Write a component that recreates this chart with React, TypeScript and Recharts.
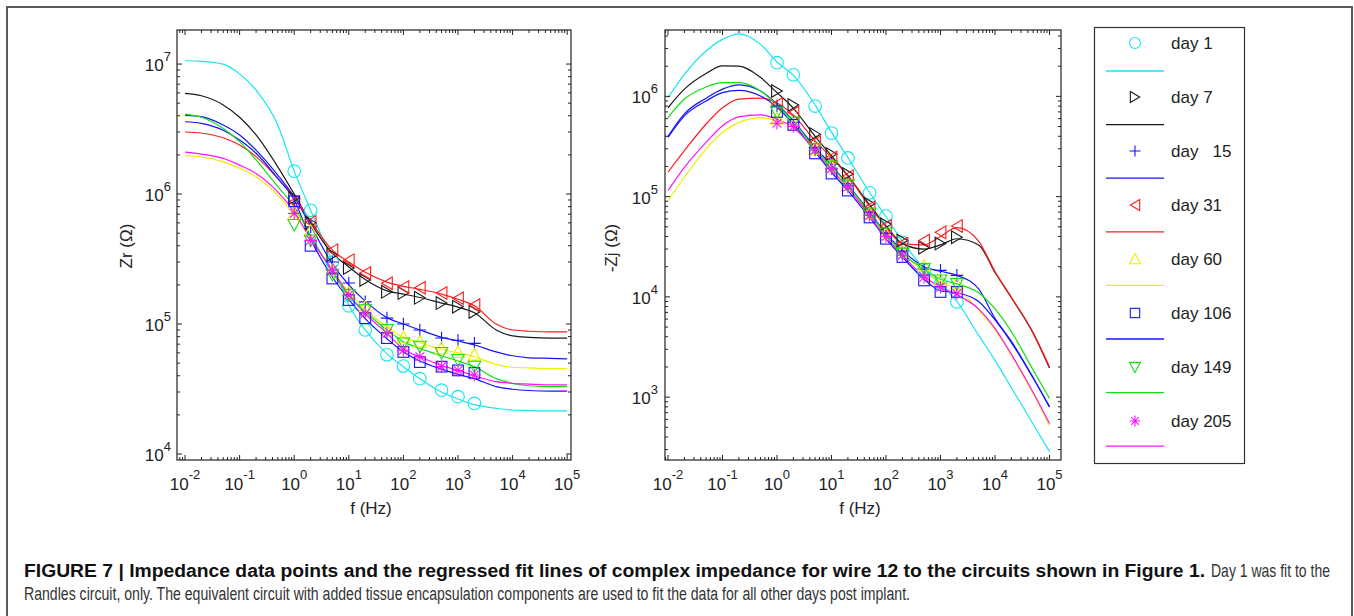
import { ComposedChart, Line, Scatter, XAxis, YAxis } from 'recharts';

// frequencies (Hz): fitted curves and measured points
const fitFreq = [0.01, 0.02, 0.05, 0.1, 0.2, 0.5, 1, 2, 5, 10, 20, 50, 100, 200, 500, 1000, 2000, 5000, 10000, 20000, 50000, 100000];
const measFreq = [1, 2, 5, 10, 20, 50, 100, 200, 500, 1000, 2000];

// Zr fits
const zrFit1 = [1.06e7, 1.05e7, 1.0e7, 8.4e6, 6.3e6, 3.4e6, 1.5e6, 7.5e5, 3.0e5, 1.4e5, 9.0e4, 5.9e4, 4.7e4, 3.8e4, 3.0e4, 2.65e4, 2.4e4, 2.25e4, 2.18e4, 2.16e4, 2.15e4, 2.15e4];
const zrFit7 = [5.95e6, 5.7e6, 4.85e6, 3.9e6, 2.85e6, 1.62e6, 1.0e6, 6.0e5, 3.5e5, 2.75e5, 2.2e5, 1.8e5, 1.7e5, 1.6e5, 1.45e5, 1.35e5, 1.22e5, 9.0e4, 8.1e4, 7.9e4, 7.8e4, 7.8e4];
const zrFit15 = [4.03e6, 3.94e6, 3.4e6, 2.85e6, 2.18e6, 1.4e6, 9.5e5, 5.7e5, 2.9e5, 2.0e5, 1.5e5, 1.12e5, 1.0e5, 9.0e4, 7.9e4, 7.4e4, 6.9e4, 6.1e4, 5.7e4, 5.5e4, 5.45e4, 5.4e4];
const zrFit31 = [3.0e6, 2.95e6, 2.71e6, 2.38e6, 1.94e6, 1.32e6, 9.5e5, 6.2e5, 3.7e5, 3.0e5, 2.5e5, 2.1e5, 1.95e5, 1.85e5, 1.7e5, 1.55e5, 1.38e5, 1.0e5, 9.0e4, 8.8e4, 8.7e4, 8.7e4];
const zrFit60 = [1.97e6, 1.93e6, 1.77e6, 1.58e6, 1.36e6, 9.8e5, 6.9e5, 4.6e5, 2.6e5, 1.75e5, 1.3e5, 9.5e4, 7.9e4, 7.2e4, 6.4e4, 6.0e4, 5.6e4, 4.9e4, 4.65e4, 4.6e4, 4.55e4, 4.55e4];
const zrFit106 = [3.6e6, 3.5e6, 3.1e6, 2.6e6, 2.06e6, 1.32e6, 9.0e5, 4.5e5, 2.3e5, 1.55e5, 1.1e5, 7.7e4, 6.1e4, 5.2e4, 4.5e4, 4.1e4, 3.8e4, 3.3e4, 3.15e4, 3.08e4, 3.05e4, 3.05e4];
const zrFit149 = [4.12e6, 3.9e6, 3.2e6, 2.53e6, 1.83e6, 1.14e6, 8.0e5, 4.8e5, 2.5e5, 1.65e5, 1.25e5, 9.0e4, 7.3e4, 6.5e4, 5.7e4, 5.2e4, 4.7e4, 3.8e4, 3.5e4, 3.35e4, 3.3e4, 3.3e4];
const zrFit205 = [2.1e6, 2.03e6, 1.88e6, 1.67e6, 1.44e6, 1.04e6, 7.3e5, 4.5e5, 2.6e5, 1.68e5, 1.2e5, 8.5e4, 6.4e4, 5.6e4, 4.8e4, 4.4e4, 4.0e4, 3.6e4, 3.5e4, 3.45e4, 3.4e4, 3.4e4];

// Zr measured
const zrPts1 = [1.5e6, 7.5e5, 3.0e5, 1.38e5, 9.0e4, 5.8e4, 4.75e4, 3.8e4, 3.1e4, 2.76e4, 2.45e4];
const zrPts7 = [9.3e5, 6.0e5, 3.4e5, 2.7e5, 2.18e5, 1.77e5, 1.73e5, 1.59e5, 1.45e5, 1.36e5, 1.24e5];
const zrPts15 = [8.5e5, 5.6e5, 3.0e5, 2.07e5, 1.48e5, 1.11e5, 1.0e5, 9.0e4, 7.8e4, 7.5e4, 7.1e4];
const zrPts31 = [8.7e5, 6.1e5, 3.7e5, 3.1e5, 2.47e5, 2.06e5, 1.93e5, 1.9e5, 1.73e5, 1.58e5, 1.4e5];
const zrPts60 = [7.0e5, 5.2e5, 2.6e5, 1.75e5, 1.36e5, 9.0e4, 7.9e4, 7.3e4, 6.5e4, 6.1e4, 5.8e4];
const zrPts106 = [8.8e5, 4.0e5, 2.24e5, 1.53e5, 1.11e5, 7.8e4, 6.1e4, 5.1e4, 4.7e4, 4.4e4, 4.2e4];
const zrPts149 = [5.8e5, 4.4e5, 2.4e5, 1.67e5, 1.28e5, 9.0e4, 7.1e4, 6.7e4, 6.0e4, 5.3e4, 4.7e4];
const zrPts205 = [7.1e5, 4.4e5, 2.6e5, 1.67e5, 1.21e5, 8.5e4, 6.3e4, 5.6e4, 4.7e4, 4.4e4, 4.05e4];

// -Zj fits
const zjFit1 = [9.7e5, 1.66e6, 2.84e6, 3.7e6, 4.2e6, 3.3e6, 2.2e6, 1.62e6, 8.2e5, 4.4e5, 2.45e5, 1.1e5, 6.3e4, 3.6e4, 1.9e4, 1.35e4, 9.0e3, 4.15e3, 2.33e3, 1.24e3, 540, 286];
const zjFit7 = [7.7e5, 1.18e6, 1.69e6, 2.01e6, 2.0e6, 1.54e6, 1.09e6, 7.6e5, 4.0e5, 2.55e5, 1.62e5, 8.3e4, 5.1e4, 3.4e4, 3.0e4, 3.3e4, 3.8e4, 3.3e4, 1.75e4, 9.8e3, 4.35e3, 1.95e3];
const zjFit15 = [4.0e5, 6.7e5, 9.6e5, 1.18e6, 1.3e6, 1.13e6, 8.4e5, 5.7e5, 3.1e5, 2.05e5, 1.32e5, 7.0e4, 4.3e4, 2.9e4, 2.0e4, 1.8e4, 1.64e4, 1.2e4, 6.1e3, 3.6e3, 1.57e3, 800];
const zjFit31 = [1.75e5, 2.87e5, 5.3e5, 7.7e5, 9.4e5, 9.6e5, 8.6e5, 6.5e5, 3.6e5, 2.45e5, 1.6e5, 8.0e4, 5.0e4, 3.4e4, 3.3e4, 4.0e4, 4.9e4, 3.6e4, 1.79e4, 9.9e3, 4.4e3, 2.0e3];
const zjFit60 = [9.1e4, 1.56e5, 3.0e5, 4.37e5, 5.5e5, 6.1e5, 5.7e5, 4.9e5, 2.95e5, 1.9e5, 1.25e5, 6.6e4, 4.1e4, 2.7e4, 1.8e4, 1.4e4, 1.2e4, 7.4e3, 4.7e3, 2.6e3, 1.08e3, 520];
const zjFit106 = [3.9e5, 6.4e5, 9.0e5, 1.09e6, 1.15e6, 1.01e6, 7.8e5, 5.3e5, 2.8e5, 1.75e5, 1.15e5, 6.2e4, 3.8e4, 2.5e4, 1.5e4, 1.15e4, 1.1e4, 9.0e3, 5.9e3, 3.5e3, 1.55e3, 800];
const zjFit149 = [6.15e5, 9.4e5, 1.24e6, 1.37e6, 1.37e6, 1.13e6, 8.2e5, 5.6e5, 3.0e5, 2.0e5, 1.3e5, 6.8e4, 4.2e4, 2.7e4, 1.9e4, 1.5e4, 1.35e4, 1.1e4, 7.6e3, 4.5e3, 1.87e3, 970];
const zjFit205 = [1.15e5, 1.96e5, 3.47e5, 5.1e5, 6.25e5, 6.55e5, 5.9e5, 4.9e5, 2.9e5, 1.85e5, 1.22e5, 6.4e4, 3.9e4, 2.6e4, 1.6e4, 1.25e4, 1.05e4, 7.6e3, 4.85e3, 2.67e3, 1.12e3, 547];

// -Zj measured
const zjPts1 = [2.17e6, 1.64e6, 8.0e5, 4.3e5, 2.43e5, 1.09e5, 6.4e4, 3.5e4, 1.84e4, 1.35e4, 8.9e3];
const zjPts7 = [1.13e6, 8.2e5, 4.2e5, 2.66e5, 1.68e5, 8.5e4, 5.3e4, 3.65e4, 3.09e4, 3.4e4, 3.93e4];
const zjPts15 = [8.0e5, 5.5e5, 3.1e5, 2.1e5, 1.35e5, 7.0e4, 4.4e4, 2.9e4, 1.9e4, 1.84e4, 1.64e4];
const zjPts31 = [8.4e5, 6.9e5, 3.5e5, 2.46e5, 1.6e5, 7.8e4, 5.1e4, 3.4e4, 3.65e4, 4.4e4, 5.1e4];
const zjPts60 = [6.0e5, 5.2e5, 3.0e5, 2.0e5, 1.3e5, 6.8e4, 4.2e4, 2.8e4, 2.05e4, 1.46e4, 1.35e4];
const zjPts106 = [7.0e5, 5.2e5, 2.7e5, 1.7e5, 1.15e5, 6.2e4, 3.8e4, 2.5e4, 1.46e4, 1.12e4, 1.12e4];
const zjPts149 = [6.9e5, 5.5e5, 3.0e5, 2.0e5, 1.3e5, 6.8e4, 4.3e4, 2.7e4, 1.9e4, 1.46e4, 1.35e4];
const zjPts205 = [5.4e5, 5.0e5, 2.9e5, 1.9e5, 1.25e5, 6.5e4, 4.0e4, 2.6e4, 1.57e4, 1.25e4, 1.08e4];

const dayLabels = ['day 1', 'day 7', 'day   15', 'day 31', 'day 60', 'day 106', 'day 149', 'day 205'];
const dayColors = ['#14e6f0', '#1a1a1a', '#1414ff', '#ff1c1c', '#eeee00', '#1414ff', '#14e014', '#ff14ff'];
const daySymbols = ['circle', 'right', 'plus', 'left', 'up', 'square', 'down', 'star'];

const zrFits = [zrFit1, zrFit7, zrFit15, zrFit31, zrFit60, zrFit106, zrFit149, zrFit205];
const zrPts = [zrPts1, zrPts7, zrPts15, zrPts31, zrPts60, zrPts106, zrPts149, zrPts205];
const zjFits = [zjFit1, zjFit7, zjFit15, zjFit31, zjFit60, zjFit106, zjFit149, zjFit205];
const zjPts = [zjPts1, zjPts7, zjPts15, zjPts31, zjPts60, zjPts106, zjPts149, zjPts205];

const decadeTicks = (lo: number, hi: number) => {
  const out: number[] = [];
  for (let e = lo; e <= hi; e++) for (let m = 1; m <= 9; m++) out.push(m * Math.pow(10, e));
  return out;
};

const FONT = '"Liberation Sans", Arial, Helvetica, sans-serif';
const INK = '#222';

const toRows = (freq: number[], vals: number[]) => freq.map((f, i) => ({ f, v: vals[i] }));
const isDecade = (v: number) => {
  const l = Math.log10(v);
  return Math.abs(l - Math.round(l)) < 1e-6;
};

function Marker({ kind, cx, cy, color, s = 6 }: any) {
  const p = { fill: 'none', stroke: color, strokeWidth: 1.1 };
  const t = s * 0.85;
  switch (kind) {
    case 'circle':
      return <circle cx={cx} cy={cy} r={s} {...p} />;
    case 'right':
      return <polygon points={`${cx - t},${cy - s} ${cx + t},${cy} ${cx - t},${cy + s}`} {...p} />;
    case 'left':
      return <polygon points={`${cx + t},${cy - s} ${cx - t},${cy} ${cx + t},${cy + s}`} {...p} />;
    case 'up':
      return <polygon points={`${cx},${cy - s} ${cx + s},${cy + t} ${cx - s},${cy + t}`} {...p} />;
    case 'down':
      return <polygon points={`${cx},${cy + s} ${cx + s},${cy - t} ${cx - s},${cy - t}`} {...p} />;
    case 'square':
      return <rect x={cx - t} y={cy - t} width={2 * t} height={2 * t} {...p} />;
    case 'plus':
      return <path d={`M${cx - s},${cy}H${cx + s}M${cx},${cy - s}V${cy + s}`} {...p} />;
    default: {
      const d = s * 0.7;
      return (
        <path
          d={`M${cx - s},${cy}H${cx + s}M${cx},${cy - s}V${cy + s}M${cx - d},${cy - d}L${cx + d},${cy + d}M${cx + d},${cy - d}L${cx - d},${cy + d}`}
          {...p}
        />
      );
    }
  }
}

type Box = { left: number; right: number; top: number; bottom: number };

const makeXTick = (box: Box) => (props: any) => {
  const { x, payload } = props;
  const v = payload.value;
  const major = isDecade(v);
  const len = major ? 5 : 3;
  return (
    <g>
      <line x1={x} x2={x} y1={box.bottom} y2={box.bottom - len} stroke={INK} />
      <line x1={x} x2={x} y1={box.top} y2={box.top + len} stroke={INK} />
      {major && (
        <text x={x} y={box.bottom + 30} textAnchor="middle" fontSize={17} fill={INK} fontFamily={FONT}>
          10<tspan dy={-11} fontSize={13}>{Math.round(Math.log10(v))}</tspan>
        </text>
      )}
    </g>
  );
};

const makeYTick = (box: Box, gap: number) => (props: any) => {
  const { y, payload } = props;
  const v = payload.value;
  const major = isDecade(v);
  const len = major ? 5 : 3;
  return (
    <g>
      <line x1={box.left} x2={box.left + len} y1={y} y2={y} stroke={INK} />
      <line x1={box.right} x2={box.right - len} y1={y} y2={y} stroke={INK} />
      {major && (
        <text x={box.left - gap} y={y + 7} textAnchor="end" fontSize={17} fill={INK} fontFamily={FONT}>
          10<tspan dy={-10} fontSize={13}>{Math.round(Math.log10(v))}</tspan>
        </text>
      )}
    </g>
  );
};

function ImpedancePlot({ fits, pts, xDomain, yDomain, xTicks, yTicks, box, gap, width, margin }: any) {
  return (
    <ComposedChart width={width} height={540} margin={margin}>
      <XAxis
        dataKey="f"
        type="number"
        scale="log"
        domain={xDomain}
        allowDataOverflow
        ticks={xTicks}
        interval={0}
        tick={makeXTick(box)}
        tickLine={false}
        axisLine={false}
        height={60}
      />
      <YAxis
        dataKey="v"
        type="number"
        scale="log"
        domain={yDomain}
        allowDataOverflow
        ticks={yTicks}
        interval={0}
        tick={makeYTick(box, gap)}
        tickLine={false}
        axisLine={false}
        width={60}
      />
      {dayLabels.flatMap((d, i) => [
        <Scatter
          key={`p${i}`}
          name={d}
          data={toRows(measFreq, pts[i])}
          dataKey="v"
          isAnimationActive={false}
          shape={(p: any) => <Marker kind={daySymbols[i]} cx={p.cx} cy={p.cy} color={dayColors[i]} s={6.3} />}
        />,
        <Line
          key={`l${i}`}
          name={d}
          data={toRows(fitFreq, fits[i])}
          dataKey="v"
          type="monotone"
          stroke={dayColors[i]}
          strokeWidth={1.2}
          dot={false}
          isAnimationActive={false}
        />,
      ])}
    </ComposedChart>
  );
}

const leftBox: Box = { left: 177, right: 571, top: 30, bottom: 460 };
const rightBoxLocal: Box = { left: 65, right: 461, top: 30, bottom: 460 };

export default function App() {
  const xTicksL = [0.008, 0.009, ...decadeTicks(-2, 4), 1e5];
  const xTicksR = [0.009, ...decadeTicks(-2, 4), 1e5];
  const yTicksL = [...decadeTicks(4, 6), 1e7];
  const yTicksR = [300, 400, 500, 600, 700, 800, 900, ...decadeTicks(3, 5), 1e6, 2e6, 3e6, 4e6];

  return (
    <div style={{ position: 'absolute', left: 0, top: 0, width: 1354, height: 616, background: '#fff', overflow: 'hidden' }}>
      <svg width={1354} height={616} style={{ position: 'absolute', left: 0, top: 0 }} fontFamily={FONT}>
        <rect x={7} y={7} width={1345} height={640} fill="none" stroke="#5a5a5a" strokeWidth={2} />
        <rect x={177} y={30} width={394} height={430} fill="none" stroke={INK} strokeWidth={1.2} />
        <rect x={665} y={30} width={396} height={430} fill="none" stroke={INK} strokeWidth={1.2} />
        <text x={371} y={514} textAnchor="middle" fontSize={17} fill={INK}>f (Hz)</text>
        <text x={860} y={514} textAnchor="middle" fontSize={17} fill={INK}>f (Hz)</text>
        <text x={132} y={246} textAnchor="middle" fontSize={17} fill={INK} transform="rotate(-90 132 246)">Zr (Ω)</text>
        <text x={617} y={248} textAnchor="middle" fontSize={17} fill={INK} transform="rotate(-90 617 248)">-Zj (Ω)</text>

        <rect x={1094.5} y={27.5} width={150} height={436} fill="#fff" stroke="#333" strokeWidth={1.2} />
        {dayLabels.map((d, i) => (
          <g key={d}>
            <Marker kind={daySymbols[i]} cx={1135} cy={43 + i * 54} color={dayColors[i]} s={5.5} />
            <line x1={1106} x2={1164} y1={71 + i * 53.6} y2={71 + i * 53.6} stroke={dayColors[i]} strokeWidth={1.3} />
            <text x={1171} y={49 + i * 54} fontSize={17} fill={INK} style={{ whiteSpace: 'pre' }}>{d}</text>
          </g>
        ))}

        <text x={24} y={577} fontSize={18} fontWeight="bold" fill="#111" textLength={1181} lengthAdjust="spacingAndGlyphs">
          FIGURE 7 | Impedance data points and the regressed fit lines of complex impedance for wire 12 to the circuits shown in Figure 1.
        </text>
        <g transform="translate(1211 577) scale(0.778 1)">
          <text x={0} y={0} fontSize={18} fill="#333">
            Day 1 was fit to the
          </text>
        </g>
        <text x={24} y={600} fontSize={18} fill="#333" textLength={886} lengthAdjust="spacingAndGlyphs">
          Randles circuit, only. The equivalent circuit with added tissue encapsulation components are used to fit the data for all other days post implant.
        </text>
      </svg>

      <div style={{ position: 'absolute', left: 0, top: 0 }}>
        <ImpedancePlot
          fits={zrFits}
          pts={zrPts}
          xDomain={[Math.pow(10, -2.147), Math.pow(10, 5.07)]}
          yDomain={[Math.pow(10, 3.954), Math.pow(10, 7.262)]}
          xTicks={xTicksL}
          yTicks={yTicksL}
          box={leftBox}
          gap={6}
          width={600}
          margin={{ top: 30, right: 29, bottom: 20, left: 117 }}
        />
      </div>
      <div style={{ position: 'absolute', left: 600, top: 0 }}>
        <ImpedancePlot
          fits={zjFits}
          pts={zjPts}
          xDomain={[Math.pow(10, -2.055), Math.pow(10, 5.211)]}
          yDomain={[Math.pow(10, 2.373), Math.pow(10, 6.662)]}
          xTicks={xTicksR}
          yTicks={yTicksR}
          box={rightBoxLocal}
          gap={7}
          width={480}
          margin={{ top: 30, right: 19, bottom: 20, left: 5 }}
        />
      </div>
    </div>
  );
}
